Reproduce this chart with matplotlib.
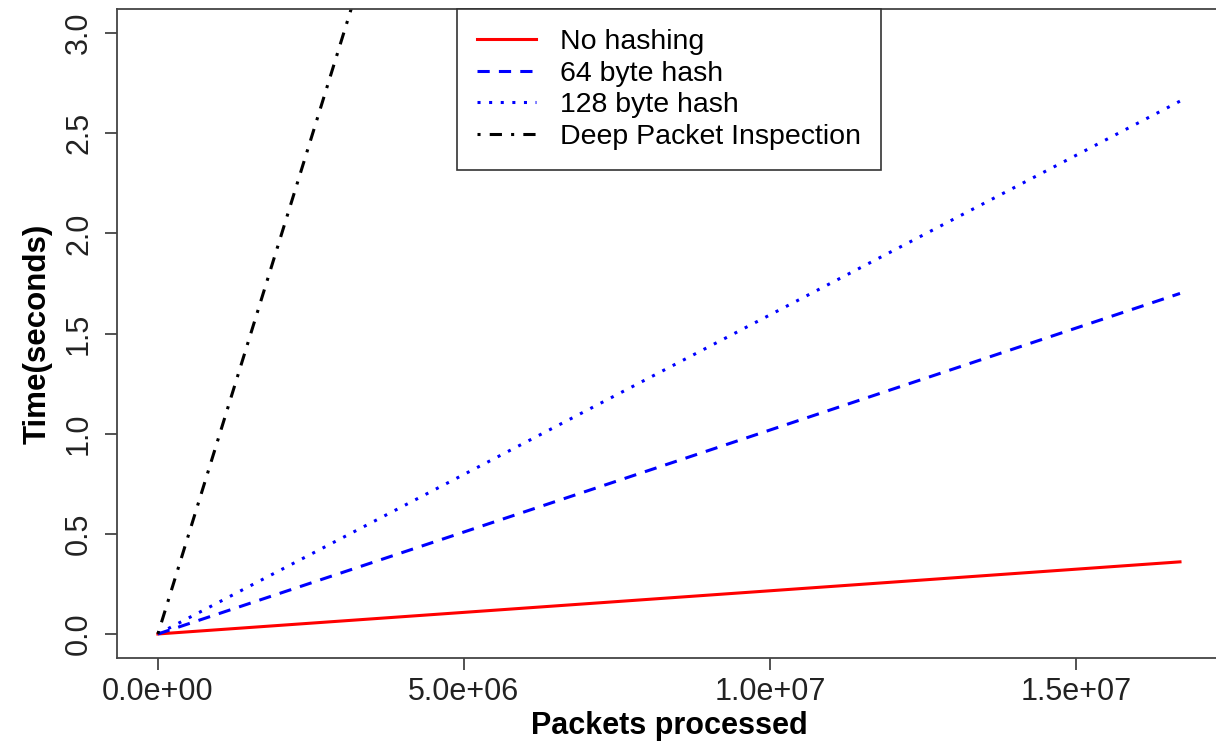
import numpy as np
import matplotlib
matplotlib.use("Agg")
import matplotlib.pyplot as plt

# ----------------------------------------------------------------------
# data
# ----------------------------------------------------------------------
packets = [0, 1.67e7]
no_hash = [0, 0.36]
hash64 = [0, 1.70]
hash128 = [0, 2.66]
dpi = [0, 16.5]

labels = ["No hashing", "64 byte hash", "128 byte hash", "Deep Packet Inspection"]
xticks = [0, 5e6, 1e7, 1.5e7]
xticklabels = ["0.0e+00", "5.0e+06", "1.0e+07", "1.5e+07"]
yticks = [0.0, 0.5, 1.0, 1.5, 2.0, 2.5, 3.0]

plt.rcParams["font.family"] = ["Liberation Sans", "DejaVu Sans"]

W, H = 1216, 745
fig = plt.figure(figsize=(W / 100, H / 100), dpi=100)
ax = fig.add_axes([117 / W, 1 - 658 / H, 1104 / W, 649 / H])

lw = 2.2
ax.plot(packets, no_hash, color="#ff0000", lw=lw, label=labels[0])
ax.plot(packets, hash64, color="#0000ff", lw=lw, dashes=(4, 3), label=labels[1])
ax.plot(packets, hash128, color="#0000ff", lw=lw, dashes=(1, 2.8), label=labels[2])
ax.plot(packets, dpi, color="#000000", lw=lw, dashes=(1, 3, 4, 3), label=labels[3])

ax.set_xlim(-0.668e6, 1.737e7)
ax.set_ylim(-0.12, 3.12)

ax.set_xticks(xticks)
ax.set_xticklabels(xticklabels)
ax.set_yticks(yticks)
ax.set_yticklabels([f"{v:.1f}" for v in yticks], rotation=90, va="center")

for s in ax.spines.values():
    s.set_color("#444444")
    s.set_linewidth(1.3)
ax.tick_params(axis="both", direction="out", length=8.5, width=1.3,
               color="#444444", labelsize=22, labelcolor="#222222")
ax.tick_params(axis="x", pad=5)
ax.tick_params(axis="y", pad=8)

ax.set_xlabel("Packets processed", fontsize=22, fontweight="bold", labelpad=3)
ax.set_ylabel("Time(seconds)", fontsize=22.5, fontweight="bold", labelpad=8)

leg = ax.legend(loc="upper center", bbox_to_anchor=(0.5, 1.0), borderaxespad=0,
                fontsize=20.5, frameon=True, fancybox=False, framealpha=1,
                handlelength=2.1, handletextpad=0.85, labelspacing=0.2,
                borderpad=0.7)
leg.get_frame().set_edgecolor("#333333")
leg.get_frame().set_linewidth(1.2)

fig.savefig("out.png", dpi=100)
